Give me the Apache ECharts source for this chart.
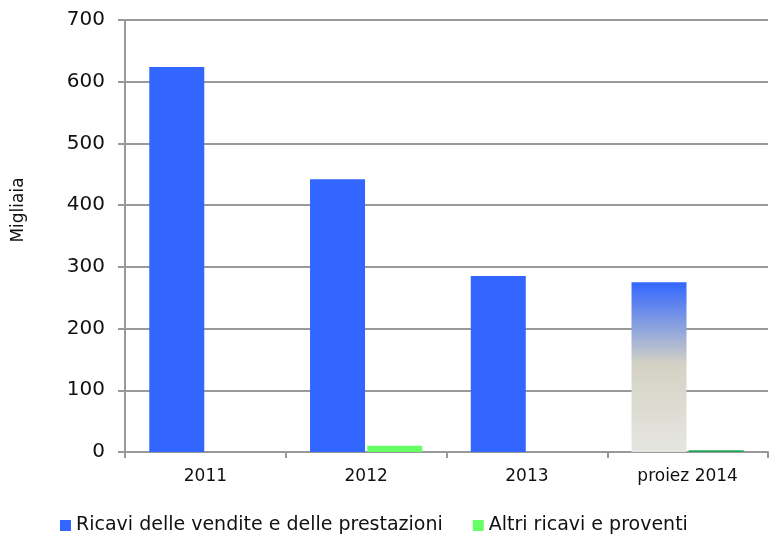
<!DOCTYPE html>
<html>
<head>
<meta charset="utf-8">
<script src="https://cdn.jsdelivr.net/npm/echarts@6/dist/echarts.min.js"></script>
<style>
  html, body { margin: 0; padding: 0; background: #fff; }
  #chart { width: 769px; height: 536px; }
</style>
</head>
<body>
<div id="chart"></div>
<script>
const categories = ['2011', '2012', '2013', 'proiez 2014']
const ricaviVendite = [624, 442, 285, 275]
const altriRicavi = [0, 10, 0, 3]
const yTicks = [0, 100, 200, 300, 400, 500, 600, 700]

const font = 'DejaVu Sans'
let chart = echarts.init(document.getElementById('chart'))

// la proiezione 2014 ha il suo stile
let blueData = ricaviVendite.map(function (v, i) {
  if (i !== 3) return v
  return {
    value: v,
    itemStyle: {
      color: new echarts.graphic.LinearGradient(0, 0, 0, 1, [
        { offset: 0, color: '#3366ff' },
        { offset: 0.48, color: '#d3d2c4' },
        { offset: 1, color: '#e6e6e1' }
      ])
    }
  }
})
let greenData = altriRicavi.map(function (v, i) {
  if (i !== 3) return v
  return { value: v, itemStyle: { color: '#1fa85a' } }
})

chart.setOption({
  animation: false,
  textStyle: { fontFamily: font },
  grid: { left: 125, right: 1, top: 20, bottom: 84 },
  legend: {
    top: 511,
    left: 55,
    itemWidth: 11,
    itemHeight: 11,
    itemGap: 30,
    icon: 'rect',
    textStyle: { fontFamily: font, fontSize: 19, color: '#111' },
    data: ['Ricavi delle vendite e delle prestazioni', 'Altri ricavi e proventi']
  },
  xAxis: {
    type: 'category',
    data: categories,
    axisLine: { lineStyle: { color: '#999', width: 2 } },
    axisTick: { show: true, length: 6, lineStyle: { color: '#999', width: 2 } },
    axisLabel: { fontFamily: font, fontSize: 17, color: '#111', margin: 16 }
  },
  yAxis: {
    type: 'value',
    min: yTicks[0],
    max: yTicks[yTicks.length - 1],
    interval: 100,
    name: 'Migliaia',
    nameLocation: 'middle',
    nameGap: 98,
    nameTextStyle: { fontFamily: font, fontSize: 17, color: '#111', padding: [0, 0, 0, 52] },
    axisLine: { show: true, lineStyle: { color: '#999', width: 2 } },
    axisTick: { show: true, length: 7, lineStyle: { color: '#999', width: 2 } },
    axisLabel: { fontFamily: font, fontSize: 20, color: '#111', margin: 20 },
    splitLine: { lineStyle: { color: '#999', width: 2 } }
  },
  series: [
    {
      name: 'Ricavi delle vendite e delle prestazioni',
      type: 'bar',
      data: blueData,
      barWidth: 55,
      barGap: '4%',
      itemStyle: { color: '#3366ff' }
    },
    {
      name: 'Altri ricavi e proventi',
      type: 'bar',
      data: greenData,
      barWidth: 55,
      itemStyle: { color: '#66ff66' }
    }
  ]
})

window.addEventListener('resize', function () {
  chart.resize()
}, false)
</script>
</body>
</html>
